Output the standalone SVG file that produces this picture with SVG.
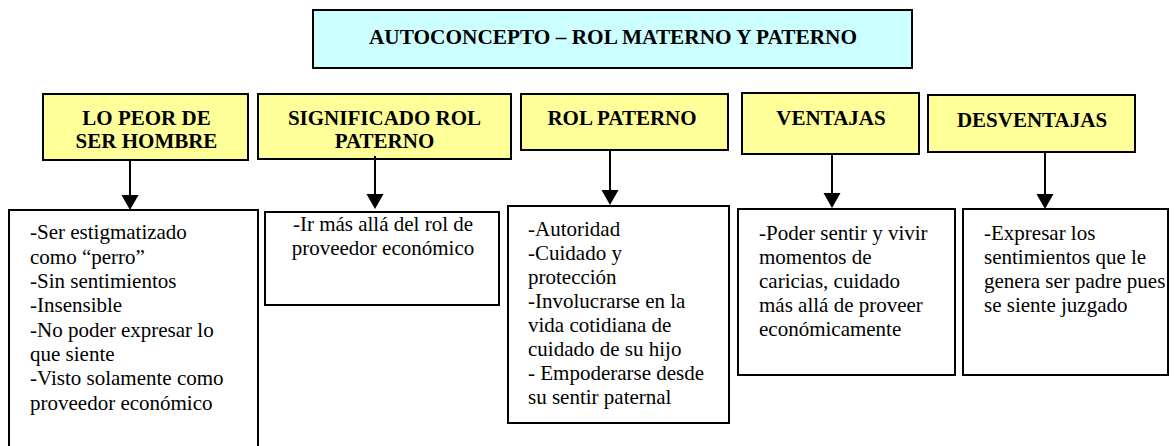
<svg xmlns="http://www.w3.org/2000/svg" width="1174" height="446" viewBox="0 0 1174 446">
<style>
.title{fill:#CCFFFF;stroke:#000;stroke-width:2}
.head{fill:#FFFF99;stroke:#000;stroke-width:2}
.box{fill:#fff;stroke:#000;stroke-width:2}
text{font-family:"Liberation Serif","Times New Roman",serif;fill:#000}
.ht{font-weight:bold;font-size:21px;text-anchor:middle}
.tt{font-weight:bold;font-size:21.3px;text-anchor:middle}
.bt{font-size:21px}
.c{text-anchor:middle}
.conn line{stroke:#000;stroke-width:2}
.conn path{fill:#000;stroke:none}
</style>
<rect width="1174" height="446" fill="#fff"/>
<g id="title">
<rect class="title" x="313" y="10" width="599" height="58"/>
<text class="tt" x="613" y="43.5">AUTOCONCEPTO – ROL MATERNO Y PATERNO</text>
</g>
<g id="h1">
<rect class="head" x="43" y="94" width="205" height="66"/>
<text class="ht" x="146.5" y="124.5">LO PEOR DE</text>
<text class="ht" x="146.5" y="148">SER HOMBRE</text>
</g>
<g id="h2">
<rect class="head" x="258" y="94" width="253" height="65"/>
<text class="ht" x="384.5" y="124.5">SIGNIFICADO ROL</text>
<text class="ht" x="384.5" y="148">PATERNO</text>
</g>
<g id="h3">
<rect class="head" x="521" y="94" width="207" height="56"/>
<text class="ht" x="622" y="125">ROL PATERNO</text>
</g>
<g id="h4">
<rect class="head" x="742" y="93" width="177" height="61"/>
<text class="ht" x="831" y="125">VENTAJAS</text>
</g>
<g id="h5">
<rect class="head" x="928" y="95" width="207" height="57"/>
<text class="ht" x="1032" y="127">DESVENTAJAS</text>
</g>
<g id="b1">
<rect class="box" x="9" y="210" width="249" height="245"/>
<text class="bt" x="30" y="239">-Ser estigmatizado</text>
<text class="bt" x="30" y="263.5">como “perro”</text>
<text class="bt" x="30" y="288">-Sin sentimientos</text>
<text class="bt" x="30" y="312">-Insensible</text>
<text class="bt" x="30" y="336.5">-No poder expresar lo</text>
<text class="bt" x="30" y="361">que siente</text>
<text class="bt" x="30" y="385">-Visto solamente como</text>
<text class="bt" x="30" y="409.5">proveedor económico</text>
</g>
<g id="b2">
<rect class="box" x="265" y="212" width="234" height="93"/>
<text class="bt c" x="383" y="231">-Ir más allá del rol de</text>
<text class="bt c" x="383" y="255">proveedor económico</text>
</g>
<g id="b3">
<rect class="box" x="508" y="206" width="221" height="217"/>
<text class="bt" x="528" y="236">-Autoridad</text>
<text class="bt" x="528" y="260">-Cuidado y</text>
<text class="bt" x="528" y="284">protección</text>
<text class="bt" x="528" y="308">-Involucrarse en la</text>
<text class="bt" x="528" y="332">vida cotidiana de</text>
<text class="bt" x="528" y="356">cuidado de su hijo</text>
<text class="bt" x="528" y="380">- Empoderarse desde</text>
<text class="bt" x="528" y="404">su sentir paternal</text>
</g>
<g id="b4">
<rect class="box" x="738" y="209" width="217" height="166"/>
<text class="bt" x="759" y="240">-Poder sentir y vivir</text>
<text class="bt" x="759" y="264">momentos de</text>
<text class="bt" x="759" y="288">caricias, cuidado</text>
<text class="bt" x="759" y="312">más allá de proveer</text>
<text class="bt" x="759" y="336">económicamente</text>
</g>
<g id="b5">
<rect class="box" x="963" y="209" width="205" height="166"/>
<text class="bt" x="984" y="240">-Expresar los</text>
<text class="bt" x="984" y="264">sentimientos que le</text>
<text class="bt" x="984" y="288">genera ser padre pues</text>
<text class="bt" x="984" y="312">se siente juzgado</text>
</g>
<g id="connectors" class="conn">
<line x1="130" y1="160" x2="130" y2="196"/>
<path d="M121.5,195 L138.5,195 L130,210 Z"/>
<line x1="375" y1="156" x2="375" y2="195"/>
<path d="M366.5,194 L383.5,194 L375,209 Z"/>
<line x1="610" y1="150" x2="610" y2="191"/>
<path d="M601.5,190 L618.5,190 L610,205 Z"/>
<line x1="832" y1="154" x2="832" y2="194"/>
<path d="M823.5,193 L840.5,193 L832,208 Z"/>
<line x1="1045" y1="152" x2="1045" y2="195"/>
<path d="M1036.5,194 L1053.5,194 L1045,209 Z"/>
</g>
</svg>
